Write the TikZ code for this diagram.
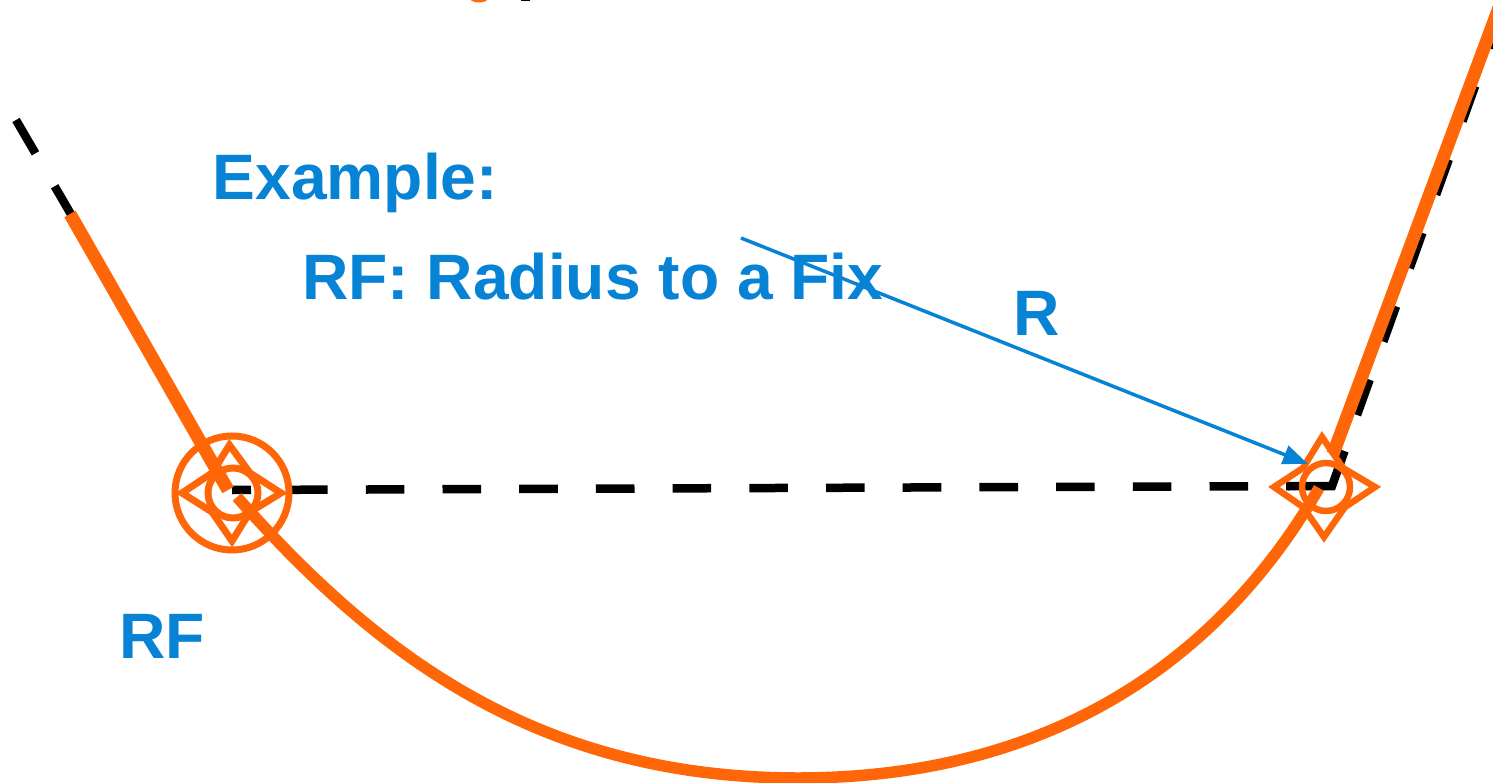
\documentclass[tikz,border=0pt]{standalone}
\usepackage{fontspec}
\setmainfont{Liberation Sans}
\usetikzlibrary{arrows.meta}
\definecolor{rforange}{HTML}{FF6608}
\definecolor{rfblue}{HTML}{0783D5}
\tikzset{
  blueText/.style={text=rfblue,font=\fontsize{64.2}{70}\selectfont\bfseries,anchor=base west,inner sep=0pt,outer sep=0pt},
  track/.style={draw=rforange,line width=13pt},
  arcTrack/.style={draw=rforange,line width=11.5pt},
  marker/.style={draw=rforange,line width=7pt,miter limit=10},
  nominal/.style={draw=black,line width=8.5pt,dash pattern=on 38.6pt off 38.1pt},
  nominalUp/.style={draw=black,line width=8.5pt,dash pattern=on 37.5pt off 40.5pt},
  nominalSeg/.style={draw=black,line width=8.5pt},
  radius/.style={draw=rfblue,line width=3.5pt,-{Triangle[length=25pt,width=19pt]},shorten >=0pt},
}
\begin{document}
\begin{tikzpicture}[x=1pt,y=-1pt]
\useasboundingbox (0,0) rectangle (1493,783);
\clip (0,0) rectangle (1493,783);
% named coordinates
\coordinate (lstart) at (16,120);
\coordinate (lstop) at (72,216);
\coordinate (lfix) at (232,490);
\coordinate (rfix) at (1332,486);
\coordinate (rend) at (1506,0);
\coordinate (rarrow) at (1308,464);
\coordinate (rtail) at (741,238);
% cut-off pieces at the top edge
\fill[rforange] (479,-3) ellipse (10 and 5.5);
\fill[black] (521,-1) rectangle (530,1);
% nominal dashed legs
\draw[nominal] (lstart) -- (lstop);
\draw[nominal,dash phase=19.6] (lfix) -- (1290,486.1);
\draw[nominalSeg] (1288,486) -- (rfix) -- (1344.5,451);
\draw[nominalUp] (1357,415) -- (rend);
% symbols
\draw[marker] (232,493) circle (57);
\draw[marker] (233,493) circle (25);
\draw[marker] (182,493) -- (212,473) -- (229.5,445) -- (250,473) -- (281,493) -- (250,512) -- (232,541) -- (212,512) -- cycle;
\draw[marker,line width=6.5pt] (1326,487) circle (24);
\draw[marker,line width=6.5pt] (1274,487) -- (1303,468) -- (1322,437) -- (1343,468) -- (1375,487) -- (1345,507) -- (1324,537) -- (1303,507) -- cycle;
% flown track
\draw[track] (70,214) -- (228,490);
\draw[arcTrack] (237,497) .. controls (376,654.5) and (538,778) .. (798,778)
  .. controls (1054,778) and (1221.5,657) .. (1319,488);
\draw[track] (1333,454) -- (1500,5);
% texts
\node[blueText] (ex) at (212.5,200) {Example:};
\node[blueText] (rfdef) at (302,300) {RF: Radius to a Fix};
\node[blueText] (r) at (1013,335) {R};
\node[blueText] (rf) at (119,658) {RF};
\draw[radius] (rtail) -- (rarrow);
\end{tikzpicture}
\end{document}
